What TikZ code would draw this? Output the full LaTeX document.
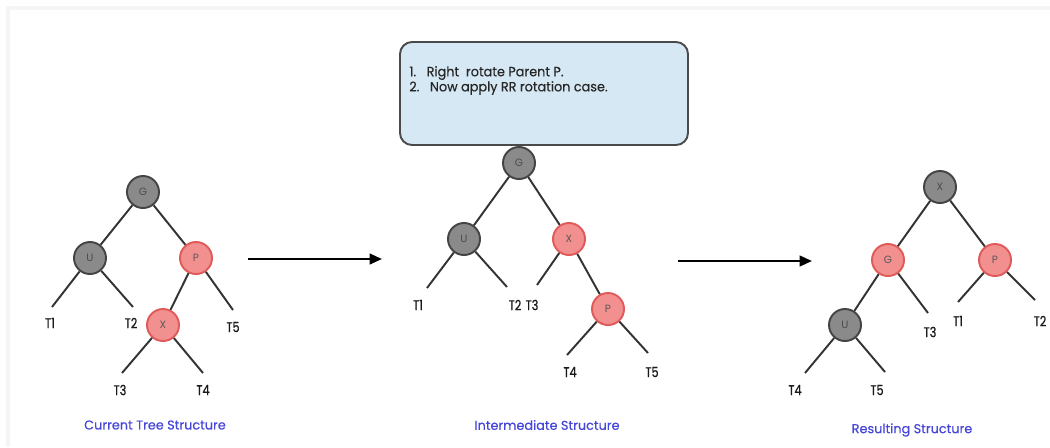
\documentclass[tikz,border=0pt]{standalone}
\usepackage{fontspec}
\setmainfont{Poppins}
\newfontfamily\labfont[FakeStretch=0.8,FakeBold=0.6]{Poppins}
\newfontfamily\notefont[FakeStretch=0.96,FakeBold=0.3]{Poppins}
\newfontfamily\capfont[FakeBold=0.3]{Poppins}
\usetikzlibrary{arrows.meta}
\definecolor{blknode}{HTML}{8A8A8A}
\definecolor{blkedge}{HTML}{444444}
\definecolor{rednode}{HTML}{F29090}
\definecolor{rededge}{HTML}{E05A5A}
\definecolor{capblue}{HTML}{4646D8}
\definecolor{boxfill}{HTML}{D6E8F4}
\definecolor{boxedge}{HTML}{4A4A4A}
\definecolor{edgecol}{HTML}{333333}
\tikzset{
  x=0.02cm, y=-0.02cm,
  bnode/.style={circle, minimum size=32*0.02cm, inner sep=0pt, fill=blknode, draw=blkedge, line width=1.1pt, font=\fontsize{6}{7}\selectfont, text=black!70},
  rnode/.style={circle, minimum size=32*0.02cm, inner sep=0pt, fill=rednode, draw=rededge, line width=1.1pt, font=\fontsize{6}{7}\selectfont, text=black!65},
  tlab/.style={font=\labfont\fontsize{8}{9}\selectfont, text=black!90, inner sep=1pt},
  edge/.style={draw=edgecol, line width=1.1pt},
  caption/.style={font=\capfont\fontsize{7.3}{8}\selectfont, text=capblue},
  notetext/.style={anchor=west, font=\notefont\fontsize{7.6}{9}\selectfont, text=black!85, inner sep=0pt},
  bigarrow/.style={draw=black, line width=1.3pt, -{Triangle[length=7pt,width=6pt]}},
  notebox/.style={draw=boxedge, fill=boxfill, line width=1.1pt, rounded corners=12*0.02cm}
}
\begin{document}
\begin{tikzpicture}
\useasboundingbox (0,0) rectangle (1050,447);
\fill[white] (0,0) rectangle (1050,447);
\draw[gray!8, line width=2pt] (8,447) -- (8,8) -- (1050,8);

% ---------- Left tree ----------
\node[bnode] (lG) at (143,192) {G};
\node[bnode] (lU) at (90,258) {U};
\node[rnode] (lP) at (196,258) {P};
\node[rnode] (lX) at (163,325) {X};
\coordinate (lT1e) at (52,307);
\coordinate (lT2e) at (133,307);
\coordinate (lT5e) at (233,310);
\coordinate (lT3e) at (122,373);
\coordinate (lT4e) at (203,373);
\node[tlab] (lT1) at (50,323) {T1};
\node[tlab] (lT2) at (131,323) {T2};
\node[tlab] (lT5) at (233,327) {T5};
\node[tlab] (lT3) at (120,390) {T3};
\node[tlab] (lT4) at (203,390) {T4};
\path[edge] (lG) -- (lU);
\path[edge] (lG) -- (lP);
\path[edge] (lP) -- (lX);
\path[edge] (lU) -- (lT1e);
\path[edge] (lU) -- (lT2e);
\path[edge] (lP) -- (lT5e);
\path[edge] (lX) -- (lT3e);
\path[edge] (lX) -- (lT4e);
\node[caption] (cap1) at (155,425) {Current Tree Structure};

% ---------- Arrow 1 ----------
\coordinate (a1s) at (248,259);
\coordinate (a1e) at (382,259);
\path[bigarrow] (a1s) -- (a1e);

% ---------- Note box ----------
\path[notebox] (400,42) rectangle (688,145);
\node[notetext] (note1) at (409,73) {1.\hspace{6pt}Right\ \ rotate Parent P.};
\node[notetext] (note2) at (409,88) {2.\hspace{6pt}Now apply RR rotation case.};

% ---------- Middle tree ----------
\node[bnode] (mG) at (519,163) {G};
\node[bnode] (mU) at (464,239) {U};
\node[rnode] (mX) at (569,239) {X};
\node[rnode] (mP) at (608,309) {P};
\coordinate (mT1e) at (427,288);
\coordinate (mT2e) at (507,287);
\coordinate (mT3e) at (537,285);
\coordinate (mT4e) at (567,355);
\coordinate (mT5e) at (648,353);
\node[tlab] (mT1) at (418,305) {T1};
\node[tlab] (mT2) at (515,305) {T2};
\node[tlab] (mT3) at (532,305) {T3};
\node[tlab] (mT4) at (570,372) {T4};
\node[tlab] (mT5) at (652,372) {T5};
\path[edge] (mG) -- (mU);
\path[edge] (mG) -- (mX);
\path[edge] (mX) -- (mP);
\path[edge] (mU) -- (mT1e);
\path[edge] (mU) -- (mT2e);
\path[edge] (mX) -- (mT3e);
\path[edge] (mP) -- (mT4e);
\path[edge] (mP) -- (mT5e);
\node[caption] (cap2) at (547,425) {Intermediate Structure};

% ---------- Arrow 2 ----------
\coordinate (a2s) at (678,261);
\coordinate (a2e) at (812,261);
\path[bigarrow] (a2s) -- (a2e);

% ---------- Right tree ----------
\node[bnode] (rX) at (940,187) {X};
\node[rnode] (rG) at (888,260) {G};
\node[rnode] (rP) at (995,260) {P};
\node[bnode] (rU) at (845,325) {U};
\coordinate (rT3e) at (928,313);
\coordinate (rT1e) at (958,302);
\coordinate (rT2e) at (1035,300);
\coordinate (rT4e) at (805,373);
\coordinate (rT5e) at (885,372);
\node[tlab] (rT3) at (930,332) {T3};
\node[tlab] (rT1) at (958,321) {T1};
\node[tlab] (rT2) at (1040,321) {T2};
\node[tlab] (rT4) at (795,390) {T4};
\node[tlab] (rT5) at (877,390) {T5};
\path[edge] (rX) -- (rG);
\path[edge] (rX) -- (rP);
\path[edge] (rG) -- (rU);
\path[edge] (rG) -- (rT3e);
\path[edge] (rP) -- (rT1e);
\path[edge] (rP) -- (rT2e);
\path[edge] (rU) -- (rT4e);
\path[edge] (rU) -- (rT5e);
\node[caption] (cap3) at (912,430) {Resulting Structure};
\end{tikzpicture}
\end{document}
